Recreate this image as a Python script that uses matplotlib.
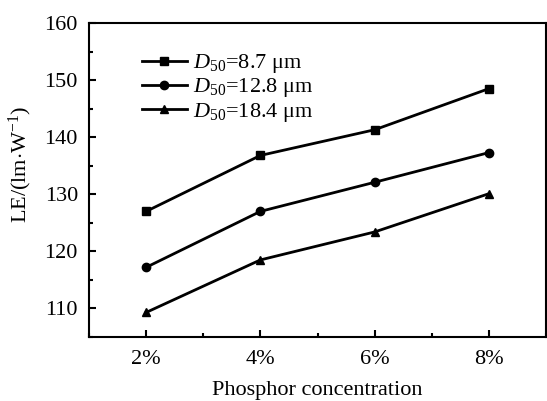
import matplotlib
matplotlib.use("Agg")
import matplotlib.pyplot as plt
from matplotlib.ticker import MultipleLocator

plt.rcParams['font.family'] = ['Liberation Serif', 'DejaVu Serif']
plt.rcParams['mathtext.fontset'] = 'custom'
plt.rcParams['mathtext.rm'] = 'Liberation Serif'
plt.rcParams['mathtext.it'] = 'Liberation Serif:italic'

concentration = [2, 4, 6, 8]
tick_labels = ['2%', '4%', '6%', '8%']
le_87 = [127.0, 136.8, 141.3, 148.5]
le_128 = [117.2, 127.0, 132.1, 137.3]
le_184 = [109.3, 118.5, 123.4, 130.1]
labels = [r'$D_{\mathrm{50}}$=8.7 μm', r'$D_{\mathrm{50}}$=12.8 μm', r'$D_{\mathrm{50}}$=18.4 μm']

fig = plt.figure(figsize=(5.47, 4.01), dpi=100)
ax = fig.add_axes([89/547, 1-337/401, (546-89)/547, (337-23)/401])

for ys, m, lab in zip([le_87, le_128, le_184], ['s', 'o', '^'], labels):
    ax.plot(concentration, ys, color='black', lw=2.0, marker=m, markersize=6, label=lab)

ax.set_xlim(1, 9)
ax.set_ylim(105, 160)
ax.set_xticks(concentration)
ax.set_xticklabels(tick_labels)
ax.xaxis.set_minor_locator(MultipleLocator(1))
ax.set_yticks([110, 120, 130, 140, 150, 160])
ax.yaxis.set_minor_locator(MultipleLocator(5))
ax.tick_params(which='both', direction='in', width=1.5, labelsize=16)
ax.tick_params(which='major', length=5)
ax.tick_params(which='minor', length=3)
ax.tick_params(axis='x', pad=9)
ax.tick_params(axis='y', pad=8)
for s in ax.spines.values():
    s.set_linewidth(1.5)

ax.set_xlabel('Phosphor concentration', fontsize=16, labelpad=9)
ax.set_ylabel(r'LE/(lm$\cdot$W$^{-1}$)', fontsize=16)
ax.yaxis.set_label_coords(-0.12, 0.55)

ax.legend(loc='upper left', frameon=False, fontsize=16, handlelength=2.0,
          handletextpad=0.3, labelspacing=0.05, bbox_to_anchor=(0.097, 0.935),
          borderaxespad=0)

fig.savefig('out.png', dpi=100)
